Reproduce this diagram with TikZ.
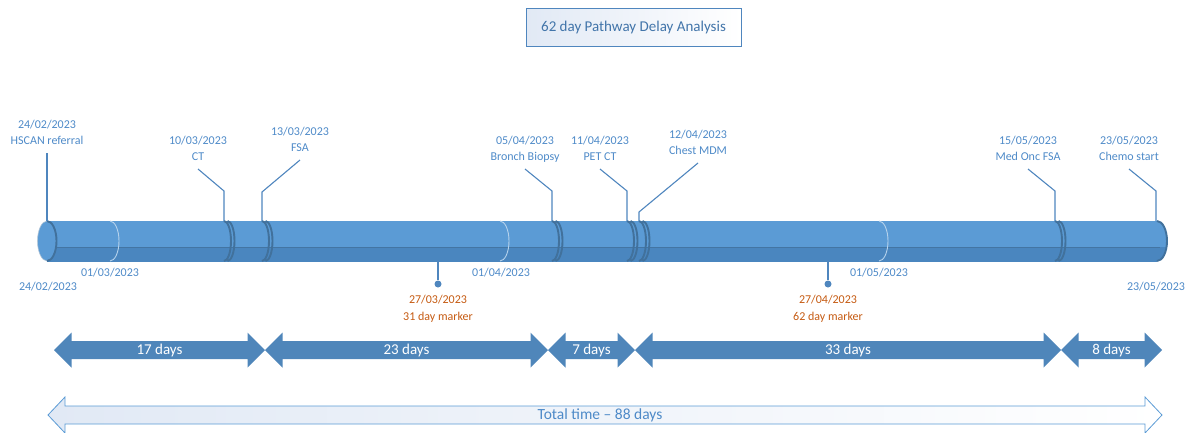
\documentclass[tikz,border=0pt]{standalone}
\usepackage{fontspec}
\setmainfont{Carlito}
\usetikzlibrary{positioning}

\definecolor{tubeblue}{HTML}{5B9BD5}
\definecolor{tubedark}{HTML}{4A86BF}
\definecolor{ringblue}{HTML}{41719C}
\definecolor{labelblue}{HTML}{4E8AC8}
\definecolor{leaderblue}{HTML}{4F86BE}
\definecolor{markorange}{HTML}{C55A11}
\definecolor{spanblue}{HTML}{4F86BA}
\definecolor{paleblue}{HTML}{E1E9F5}

\tikzset{
  evtlabel/.style={text=labelblue, align=center, inner sep=1pt,
    font=\fontsize{12}{16.5}\selectfont},
  datelabel/.style={text=labelblue, inner sep=1pt, font=\fontsize{12}{14}\selectfont},
  marklabel/.style={text=markorange, align=center, inner sep=1pt,
    font=\fontsize{12}{17}\selectfont},
  leader/.style={draw=leaderblue, line width=1.1pt},
  ring/.style={draw=ringblue, line width=1.9pt},
  monthring/.style={draw=white!55!tubeblue, line width=0.9pt},
  markdot/.style={circle, fill=leaderblue, inner sep=0pt, minimum size=7pt},
  spanfill/.style={fill=spanblue},
  spantext/.style={text=white, inner sep=0pt, font=\fontsize{15}{17}\selectfont},
}

\begin{document}
\begin{tikzpicture}[x=1pt,y=-1pt]
\useasboundingbox (0,0) rectangle (1195,432);

% The title
\node[draw=leaderblue, line width=0.9pt, left color=paleblue, right color=white,
  minimum width=215pt, minimum height=38pt, text=labelblue!85!black,
  font=\fontsize{15}{17}\selectfont] (title) at (633.5,27) {62 day Pathway Delay Analysis};

% The tube
\begin{scope}
\clip (47,221) -- (1157,221) arc (-90:90:10 and 20) -- (47,261) -- cycle;
\fill[tubeblue] (40,215) rectangle (1170,247);
\fill[tubedark] (40,247) rectangle (1170,265);
\end{scope}
\draw[ringblue!80!tubedark, line width=0.8pt] (47,247) -- (1160,247);
\draw[tubedark, line width=0.6pt] (47,261) -- (1157,261);

% month joints
\foreach \m in {110,500,879}{
  \draw[monthring] (\m,221) arc (-90:90:9 and 20);
}

% event joints
\foreach \r in {224,262,552,627,639,1055}{
  \draw[ring] (\r,221) arc (-90:90:7 and 20);
  \draw[ring] (\r+3.5,221) arc (-90:90:7 and 20);
}

% the two ends
\draw[ring] (1157,221) arc (-90:90:10 and 20);
\filldraw[fill=tubeblue, draw=ringblue!40!white, line width=0.6pt] (47,241) ellipse (9.5 and 20);
\draw[ring] (47,221) arc (-90:90:9.5 and 20);

% Events above the tube
\coordinate (hscan-s) at (47,153);
\coordinate (hscan-r) at (47,221);
\node[evtlabel, above=2pt of hscan-s] (hscan) {24/02/2023\\HSCAN referral\strut};
\draw[leader] (hscan-s) -- (hscan-r);

\coordinate (ct-s) at (198,169);
\coordinate (ct-b) at (224,191);
\coordinate (ct-r) at (224,221);
\node[evtlabel, above=2pt of ct-s] (ct) {10/03/2023\\CT\strut};
\draw[leader] (ct-s) -- (ct-b) -- (ct-r);

\coordinate (fsa-s) at (300,160);
\coordinate (fsa-b) at (262,192);
\coordinate (fsa-r) at (262,221);
\node[evtlabel, above=2pt of fsa-s] (fsa) {13/03/2023\\FSA\strut};
\draw[leader] (fsa-s) -- (fsa-b) -- (fsa-r);

\coordinate (bronch-s) at (525,169);
\coordinate (bronch-b) at (552,191);
\coordinate (bronch-r) at (552,221);
\node[evtlabel, above=2pt of bronch-s] (bronch) {05/04/2023\\Bronch Biopsy\strut};
\draw[leader] (bronch-s) -- (bronch-b) -- (bronch-r);

\coordinate (pet-s) at (600,169);
\coordinate (pet-b) at (627,191);
\coordinate (pet-r) at (627,221);
\node[evtlabel, above=2pt of pet-s] (pet) {11/04/2023\\PET CT\strut};
\draw[leader] (pet-s) -- (pet-b) -- (pet-r);

\coordinate (mdm-s) at (698,163);
\coordinate (mdm-b) at (639,212);
\coordinate (mdm-r) at (639,221);
\node[evtlabel, above=2pt of mdm-s] (mdm) {12/04/2023\\Chest MDM\strut};
\draw[leader] (mdm-s) -- (mdm-b) -- (mdm-r);

\coordinate (medonc-s) at (1028,169);
\coordinate (medonc-b) at (1055,191);
\coordinate (medonc-r) at (1055,221);
\node[evtlabel, above=2pt of medonc-s] (medonc) {15/05/2023\\Med Onc FSA\strut};
\draw[leader] (medonc-s) -- (medonc-b) -- (medonc-r);

\coordinate (chemo-s) at (1129,169);
\coordinate (chemo-b) at (1156,191);
\coordinate (chemo-r) at (1156,221);
\node[evtlabel, above=2pt of chemo-s] (chemo) {23/05/2023\\Chemo start\strut};
\draw[leader] (chemo-s) -- (chemo-b) -- (chemo-r);

% Dates below the tube
\node[datelabel] (start) at (48,287) {24/02/2023};
\node[datelabel] (mar) at (110,273) {01/03/2023};
\node[datelabel] (apr) at (501,273) {01/04/2023};
\node[datelabel] (may) at (879,273) {01/05/2023};
\node[datelabel] (end) at (1156,287) {23/05/2023};

% The 31 and 62 day markers
\coordinate (m31-t) at (438,261);
\node[markdot] (m31) at (438,284) {};
\draw[leader] (m31-t) -- (m31);
\node[marklabel, below=6pt of m31] (m31txt) {27/03/2023\\31 day marker};

\coordinate (m62-t) at (828,261);
\node[markdot] (m62) at (828,284) {};
\draw[leader] (m62-t) -- (m62);
\node[marklabel, below=6pt of m62] (m62txt) {27/04/2023\\62 day marker};

% The day spans
\foreach \a/\b/\n in {54/265/17, 265/548/23, 548/635/7, 635/1061/33, 1061/1162/8}{
  \fill[spanfill] (\a,350) -- (\a+17.5,332.5) -- (\a+17.5,341) -- (\b-17.5,341)
    -- (\b-17.5,332.5) -- (\b,350) -- (\b-17.5,367.5) -- (\b-17.5,359)
    -- (\a+17.5,359) -- (\a+17.5,367.5) -- cycle;
  \node[spantext] (span\n) at ({(\a+\b)/2},350) {\n~days};
}

% Total time
\path[draw=tubeblue, line width=0.8pt, left color=paleblue, right color=white]
  (48,415) -- (65,397) -- (65,406) -- (1145,406) -- (1145,397) -- (1162,415)
  -- (1145,433) -- (1145,424) -- (65,424) -- (65,433) -- cycle;
\node[text=labelblue, inner sep=0pt, font=\fontsize{15.5}{17}\selectfont] (total) at (600,415) {Total time -- 88 days};

\end{tikzpicture}
\end{document}
